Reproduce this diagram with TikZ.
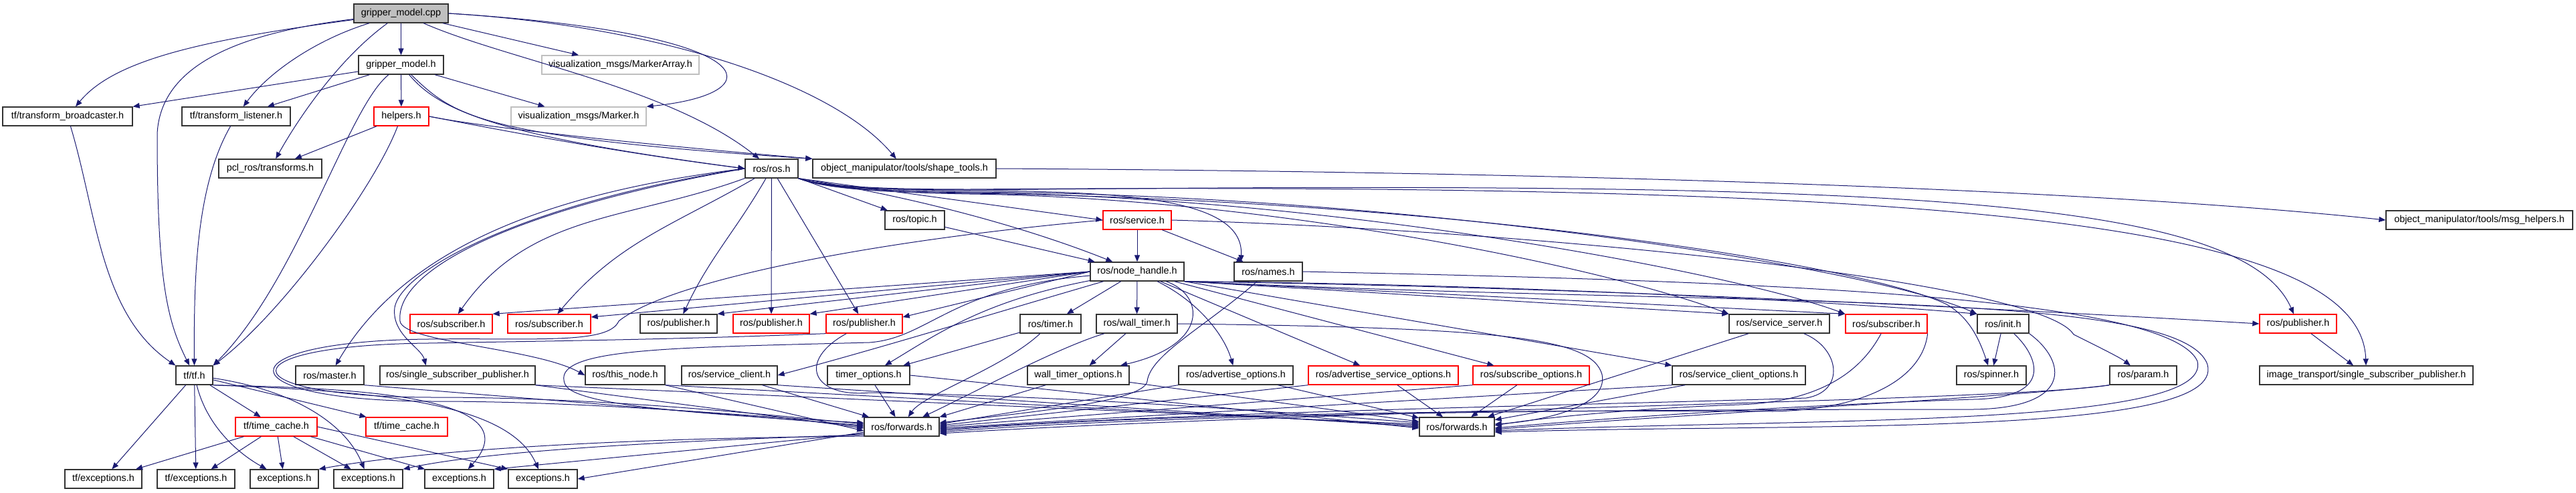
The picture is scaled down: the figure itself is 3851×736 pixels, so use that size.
\documentclass[tikz,border=0pt]{standalone}
\usepackage{xcolor}
\usepackage{fontspec}
\setmainfont{Liberation Sans}
\usetikzlibrary{arrows.meta}

\definecolor{edgeblue}{RGB}{25,25,112}
\definecolor{nodegray}{RGB}{191,191,191}

\tikzset{
  hdr/.style={draw=black!80, line width=1pt, fill=white, inner sep=0pt,
    minimum height=21pt, font=\fontsize{10.8}{13}\selectfont},
  trunc/.style={hdr, draw=red},
  undoc/.style={hdr, draw=nodegray},
  wd/.style={minimum width=#1*0.75pt},
  dep/.style={draw=edgeblue, line width=0.75pt, -{Triangle[length=7.5pt,width=6pt]}}
}

\begin{document}
\begin{tikzpicture}[x=0.75pt, y=-0.75pt]
    \useasboundingbox (0,0) rectangle (3851,736);
    {
      \node[hdr, wd=141, fill=nodegray] (cpp) at (599.5,20) {gripper\_model.cpp};
      \node[hdr, wd=127] (gmh) at (599.5,97) {gripper\_model.h};
      \node[undoc, wd=235] (vma) at (927.5,97) {visualization\_msgs/MarkerArray.h};
      \node[hdr, wd=194] (tfb) at (101,174) {tf/transform\_broadcaster.h};
      \node[hdr, wd=162] (tfl) at (353,174) {tf/transform\_listener.h};
      \node[trunc, wd=82] (hlp) at (600,174) {helpers.h};
      \node[undoc, wd=202] (vmk) at (865,174) {visualization\_msgs/Marker.h};
      \node[hdr, wd=154] (pcl) at (404,252) {pcl\_ros/transforms.h};
      \node[hdr, wd=79] (ros) at (1153.5,252) {ros/ros.h};
      \node[hdr, wd=274] (shp) at (1352,252) {object\_manipulator/tools/shape\_tools.h};
    }
    {
      \node[hdr, wd=89] (top) at (1367.5,329) {ros/topic.h};
      \node[trunc, wd=102] (srv) at (1700,329) {ros/service.h};
      \node[hdr, wd=279] (msg) at (3706.5,329) {object\_manipulator/tools/msg\_helpers.h};
      \node[hdr, wd=140] (nh) at (1700,406) {ros/node\_handle.h};
      \node[hdr, wd=102] (nam) at (1896,406) {ros/names.h};
    }
    {
      \node[trunc, wd=123] (sub1) at (674.5,484) {ros/subscriber.h};
      \node[trunc, wd=124] (sub2) at (821,484) {ros/subscriber.h};
      \node[hdr, wd=115] (pub0) at (1014.5,484) {ros/publisher.h};
      \node[trunc, wd=114] (pub1) at (1153,484) {ros/publisher.h};
      \node[trunc, wd=114] (pub2) at (1292,484) {ros/publisher.h};
      \node[hdr, wd=91] (tmr) at (1570.5,484) {ros/timer.h};
      \node[hdr, wd=121] (wtm) at (1699.5,484) {ros/wall\_timer.h};
      \node[hdr, wd=150] (ssv) at (2660,484) {ros/service\_server.h};
      \node[trunc, wd=122] (sub3) at (2820,484) {ros/subscriber.h};
      \node[hdr, wd=77] (ini) at (2994.5,484) {ros/init.h};
      \node[trunc, wd=115] (pub3) at (3435.5,484) {ros/publisher.h};
    }
    {
      \node[hdr, wd=55] (tf) at (290.5,561) {tf/tf.h};
      \node[hdr, wd=102] (mst) at (493,561) {ros/master.h};
      \node[hdr, wd=232] (ssp) at (684,561) {ros/single\_subscriber\_publisher.h};
      \node[hdr, wd=119] (thn) at (934.5,561) {ros/this\_node.h};
      \node[hdr, wd=143] (scl) at (1090.5,561) {ros/service\_client.h};
      \node[hdr, wd=123] (tmo) at (1298.5,561) {timer\_options.h};
      \node[hdr, wd=152] (wto) at (1612,561) {wall\_timer\_options.h};
      \node[hdr, wd=171] (ado) at (1847.5,561) {ros/advertise\_options.h};
      \node[trunc, wd=224] (aso) at (2068,561) {ros/advertise\_service\_options.h};
      \node[trunc, wd=174] (sbo) at (2289,561) {ros/subscribe\_options.h};
      \node[hdr, wd=199] (sco) at (2599.5,561) {ros/service\_client\_options.h};
      \node[hdr, wd=104] (spn) at (2977,561) {ros/spinner.h};
      \node[hdr, wd=100] (prm) at (3204,561) {ros/param.h};
      \node[hdr, wd=319] (its) at (3537.5,561) {image\_transport/single\_subscriber\_publisher.h};
    }
    {
      \node[trunc, wd=122] (tc1) at (413,638) {tf/time\_cache.h};
      \node[trunc, wd=122] (tc2) at (608,638) {tf/time\_cache.h};
      \node[hdr, wd=112] (fw1) at (1348,638) {ros/forwards.h};
      \node[hdr, wd=112] (fw2) at (2178,638) {ros/forwards.h};
      \node[hdr, wd=115] (te1) at (154.5,716) {tf/exceptions.h};
      \node[hdr, wd=116] (te2) at (293,716) {tf/exceptions.h};
      \node[hdr, wd=102] (ex1) at (425,716) {exceptions.h};
      \node[hdr, wd=103] (ex2) at (550.5,716) {exceptions.h};
      \node[hdr, wd=103] (ex3) at (686.5,716) {exceptions.h};
      \node[hdr, wd=103] (ex4) at (811.5,716) {exceptions.h};
    }
    % gripper_model.cpp
    \draw[dep] (cpp) .. controls (300,60) and (170,90) .. (tfb);
    \draw[dep] (cpp) .. controls (350,50) and (240,100) .. (235,200) .. controls (235,420) and (250,480) .. (tf);
    \draw[dep] (cpp) .. controls (470,60) and (400,110) .. (tfl);
    \draw[dep] (cpp) .. controls (510,85) and (450,170) .. (pcl);
    \draw[dep] (cpp) -- (gmh);
    \draw[dep] (cpp) .. controls (760,90) and (1000,130) .. (ros);
    \draw[dep] (cpp) -- (vma);
    \draw[dep] (cpp.east) .. controls (1150,50) and (1160,140) .. (vmk.north east);
    \draw[dep] (cpp.east) .. controls (1000,40) and (1250,130) .. (shp);
    % gripper_model.h, helpers.h
    \draw[dep] (gmh) -- (tfb.north east);
    \draw[dep] (gmh) -- (tfl);
    \draw[dep] (gmh) .. controls (520,160) and (445,420) .. (tf.north east);
    \draw[dep] (gmh) -- (hlp);
    \draw[dep] (gmh) -- (vmk);
    \draw[dep] (gmh) .. controls (660,170) and (760,205) .. (ros.west);
    \draw[dep] (gmh) .. controls (680,175) and (720,205) .. (shp.north west);
    \draw[dep] (hlp) -- (pcl);
    \draw[dep] (hlp) .. controls (560,280) and (420,470) .. (tf.north east);
    \draw[dep] (hlp.east) .. controls (700,185) and (900,225) .. (ros.west);
    \draw[dep] (hlp.east) .. controls (720,190) and (950,215) .. (shp.north west);
    \draw[dep] (tfb) .. controls (145,320) and (150,470) .. (tf.north west);
    \draw[dep] (tfl) .. controls (292,280) and (290,420) .. (tf);
    \draw[dep] (shp.east) .. controls (2500,258) and (3200,290) .. (msg.west);
    % ros/ros.h
    \draw[dep] (ros) -- (top);
    \draw[dep] (ros.south east) -- (srv.west);
    \draw[dep] (ros.south east) .. controls (1400,300) and (1560,350) .. (nh);
    \draw[dep] (ros.south east) .. controls (1240,282) and (1350,284) .. (1450,285) .. controls (1700,286) and (1860,300) .. ([xshift=8pt]nam.north west);
    \draw[dep] (ros.south east) .. controls (1240,284) and (1350,288) .. (1450,290) .. controls (1900,296) and (2400,400) .. (ssv.north west);
    \draw[dep] (ros.south east) .. controls (1240,283) and (1350,286) .. (1450,288) .. controls (2000,294) and (2600,410) .. (sub3.north west);
    \draw[dep] (ros.south east) .. controls (1240,283) and (1350,286) .. (1450,287) .. controls (2100,290) and (2800,400) .. (ini.north west);
    \draw[dep] (ros.south east) .. controls (1240,285) and (1350,288) .. (1450,289) .. controls (2200,300) and (2800,400) .. (2910,455) .. controls (2945,475) and (2960,510) .. (spn);
    \draw[dep] (ros.south east) .. controls (1240,282) and (1350,284) .. (1450,284) .. controls (2800,270) and (3350,290) .. (pub3);
    \draw[dep] (ros.south east) .. controls (1240,281) and (1350,283) .. (1450,283) .. controls (2900,272) and (3530,330) .. (its);
    \draw[dep] (ros) to[out=200,in=55] (sub1);
    \draw[dep] (ros) to[out=210,in=50] (sub2);
    \draw[dep] (ros) to[out=240,in=65] (pub0);
    \draw[dep] (ros) -- (pub1);
    \draw[dep] (ros) -- (pub2);
    \draw[dep] (ros.west) .. controls (800,290) and (600,380) .. (mst);
    \draw[dep] (ros.west) .. controls (800,300) and (600,400) .. (590,460) .. controls (585,500) and (630,520) .. ([xshift=52pt]ssp.north west);
    \draw[dep] (ros.west) .. controls (780,310) and (590,400) .. (598,480) .. controls (602,512) and (800,520) .. (thn.west);
    % topic.h, service.h
    \draw[dep] (top) -- (nh);
    \draw[dep] (srv) -- (nh);
    \draw[dep] (srv) -- (nam);
    \draw[dep] (srv.east) .. controls (2300,345) and (3050,420) .. (3100,500) .. controls (3150,525) and (3170,535) .. (prm);
    \draw[dep] (srv.west) .. controls (1300,360) and (1000,420) .. (925,480) .. controls (910,515) and (800,505) .. (640,507) .. controls (330,510) and (330,600) .. (650,600) .. controls (900,600) and (1150,625) .. (fw1.174);
    % node_handle.h
    \draw[dep] (nh.west) -- (sub1.north east);
    \draw[dep] (nh.west) -- ([yshift=7.5pt]sub2.east);
    \draw[dep] (nh.west) -- (pub0.north east);
    \draw[dep] (nh.west) -- (pub1.north east);
    \draw[dep] (nh.west) -- ([yshift=7.5pt]pub2.east);
    \draw[dep] (nh) .. controls (1470,450) and (1400,500) .. (tmo);
    \draw[dep] (nh) -- (tmr);
    \draw[dep] (nh) -- (wtm);
    \draw[dep] (nh) .. controls (1480,470) and (1300,525) .. (scl.east);
    \draw[dep] (nh) .. controls (1800,440) and (1810,515) .. (wto);
    \draw[dep] (nh) .. controls (1790,450) and (1830,500) .. (ado);
    \draw[dep] (nh) -- (aso);
    \draw[dep] (nh) -- (sbo);
    \draw[dep] (nh.south east) -- (sco.north west);
    \draw[dep] (nh.south east) -- (ssv.north west);
    \draw[dep] (nh.south east) -- (sub3.north west);
    \draw[dep] (nh.south east) .. controls (2300,425) and (2800,455) .. (ini.north west);
    \draw[dep] (nh.south east) .. controls (2400,430) and (3000,462) .. (pub3.west);
    \draw[dep] (nh) .. controls (1420,430) and (1390,505) .. (1300,512) .. controls (1000,520) and (820,520) .. (845,575) .. controls (865,615) and (1150,620) .. (fw1.180);
    \draw[dep] (nh.south east) .. controls (2600,460) and (3260,430) .. (3300,545) .. controls (3330,655) and (2700,632) .. (fw2.-8);
    \draw[dep] (nam.east) .. controls (2600,420) and (3240,440) .. (3285,540) .. controls (3310,640) and (2700,625) .. (fw2.-6);
    \draw[dep] (nam) .. controls (1800,490) and (1720,530) .. (1715,570) .. controls (1710,600) and (1550,615) .. (fw1.6);
    % row 6
    \draw[dep] (pub2.south west) .. controls (1000,508) and (800,510) .. (640,513) .. controls (335,516) and (335,594) .. (650,594) .. controls (900,594) and (1150,620) .. (fw1.176);
    \draw[dep] (pub2) .. controls (1190,540) and (1215,595) .. (1300,587) .. controls (1600,592) and (1900,615) .. (fw2.174);
    \draw[dep] (tmr) -- (tmo);
    \draw[dep] (tmr) .. controls (1500,550) and (1380,590) .. (fw1);
    \draw[dep] (wtm) -- (wto);
    \draw[dep] (wtm) .. controls (1580,520) and (1450,590) .. (fw1);
    \draw[dep] (wtm.east) .. controls (2250,490) and (2380,505) .. (2395,560) .. controls (2405,610) and (2300,630) .. (fw2.4);
    \draw[dep] (ssv) -- (fw2);
    \draw[dep] (ssv) .. controls (2750,520) and (2760,585) .. (2700,595) .. controls (2400,605) and (1800,615) .. (fw1.-4);
    \draw[dep] (sub3) .. controls (2790,540) and (2740,600) .. (2600,605) .. controls (2450,610) and (2300,625) .. (fw2.2);
    \draw[dep] (sub3.south east) .. controls (2875,560) and (2800,612) .. (2650,615) .. controls (2300,612) and (1700,618) .. (fw1.-6);
    \draw[dep] (ini) -- (spn);
    \draw[dep] (ini) .. controls (3045,530) and (3075,595) .. (2950,597) .. controls (2700,605) and (2400,625) .. (fw2.-2);
    \draw[dep] (ini.south east) .. controls (3090,540) and (3100,610) .. (2950,612) .. controls (2500,612) and (1800,615) .. (fw1.-8);
    \draw[dep] (pub3) -- (its);
    % row 7
    \draw[dep] (mst.south east) -- (fw1.178);
    \draw[dep] (ssp.south east) -- (fw1.182);
    \draw[dep] (ssp.south east) -- (fw2.176);
    \draw[dep] (thn.south east) -- (fw1.186);
    \draw[dep] (thn.south east) -- (fw2.178);
    \draw[dep] (scl) -- (fw1);
    \draw[dep] (scl.south east) -- (fw2.180);
    \draw[dep] (tmo) -- (fw1);
    \draw[dep] (tmo.east) -- (fw2.182);
    \draw[dep] (wto) -- (fw1.north east);
    \draw[dep] (wto) -- (fw2);
    \draw[dep] (ado.south west) -- (fw1.4);
    \draw[dep] (ado) -- (fw2);
    \draw[dep] (aso.south west) -- (fw1.2);
    \draw[dep] (aso) -- (fw2);
    \draw[dep] (sbo.south west) -- (fw1.0);
    \draw[dep] (sbo) -- (fw2);
    \draw[dep] (sco.south west) -- (fw1.-2);
    \draw[dep] (sco) -- (fw2);
    \draw[dep] (prm.south west) .. controls (3000,595) and (2500,620) .. (fw2.-4);
    \draw[dep] (prm.south west) .. controls (3000,600) and (2000,612) .. (fw1.-10);
    % tf/tf.h, time_cache.h, forwards.h
    \draw[dep] (tf) -- (te1);
    \draw[dep] (tf) -- (te2);
    \draw[dep] (tf) .. controls (310,640) and (360,680) .. (ex1);
    \draw[dep] (tf) .. controls (450,585) and (520,640) .. (ex2);
    \draw[dep] (tf) -- (tc1);
    \draw[dep] (tf) -- (tc2);
    \draw[dep] (tf.south east) .. controls (520,580) and (800,590) .. (ex3);
    \draw[dep] (tf.south east) .. controls (560,585) and (760,600) .. (ex4);
    \draw[dep] (tc1) -- (te1);
    \draw[dep] (tc1) -- (te2);
    \draw[dep] (tc1) -- (ex1);
    \draw[dep] (tc1) -- (ex2);
    \draw[dep] (tc1) -- (ex3);
    \draw[dep] (tc1.east) -- (ex4.north west);
    \draw[dep] (fw1.188) -- (ex4.east);
    \draw[dep] (fw1.190) -- (ex3.north east);
    \draw[dep] (fw1.192) .. controls (900,662) and (700,680) .. (ex2.north east);
    \draw[dep] (fw1.194) .. controls (900,655) and (620,675) .. (ex1.north east);
  \end{tikzpicture}
\end{document}
